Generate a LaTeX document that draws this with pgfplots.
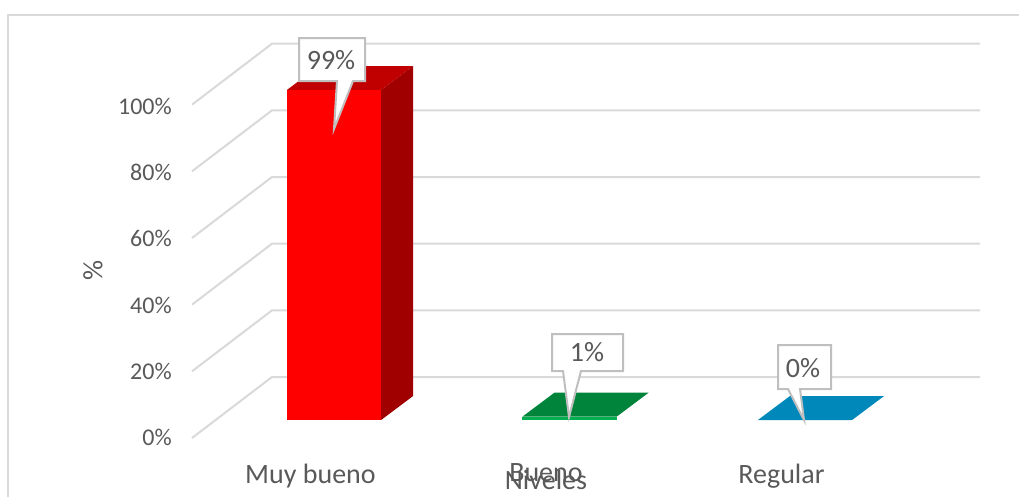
\documentclass[border=0pt]{standalone}
\usepackage{pgfplots}
\pgfplotsset{compat=1.18}
\usepackage{fontspec}
\setmainfont{Carlito}
\definecolor{gridc}{HTML}{D9D9D9}
\definecolor{txt}{HTML}{595959}
\definecolor{callout}{HTML}{BFBFBF}
\definecolor{redside}{HTML}{A00000}
\definecolor{redtop}{HTML}{C00000}
\definecolor{greenfront}{HTML}{00B050}
\definecolor{greentop}{HTML}{00843C}
\definecolor{bluetop}{HTML}{0088BB}
\newcommand{\lab}{\fontsize{18}{22}\selectfont\color{txt}}
\newcommand{\labb}{\fontsize{21}{25}\selectfont\color{txt}}
\begin{document}
\begin{tikzpicture}[x=0.75pt,y=0.75pt]
% 1 reference pixel = 0.75pt, origin at the axis' lower left corner (px 192, 455)
\path[use as bounding box] (-192,-42) rectangle (827,455);
\begin{axis}[%
scale only axis,
width=620.25pt,
height=341.25pt,
clip=false,
xmin=-0.603,
xmax=2.9087,
ymin=-10.5,
ymax=126,
axis x line*=bottom,
axis y line*=left,
x axis line style={draw=none},
y axis line style={draw=none},
major tick length=0pt,
xtick={-0.1,0.9,1.9},
xticklabels={Muy bueno,Bueno,Regular},
ytick={-5.1,14.7,34.5,54.6,74.4,94.2},
yticklabels={0\%,20\%,40\%,60\%,80\%,100\%},
x tick label style={font=\labb,inner sep=0pt,yshift=-6.5pt},
y tick label style={font=\lab,inner sep=0pt,xshift=-15pt},
xlabel={Niveles},
ylabel={\%},
every axis x label/.style={at={(axis cs:0.9,-18)},anchor=center,font=\labb},
every axis y label/.style={at={(axis cs:-1.0234,45)},anchor=center,rotate=90,font=\labb},
]
% outer frame
\addplot[gridc,line width=1.5pt,forget plot] coordinates {(-1.3843,-23.1) (-1.3843,121.5) (2.9087,121.5)};
% walls: gridlines run from the front tick back and across
\addplot[gridc,line width=1.5pt,forget plot] coordinates {(-0.603,-5.4) (-0.2633,12.9) (2.7431,12.9)};
\addplot[gridc,line width=1.5pt,forget plot] coordinates {(-0.603,14.6) (-0.2633,32.9) (2.7431,32.9)};
\addplot[gridc,line width=1.5pt,forget plot] coordinates {(-0.603,34.6) (-0.2633,52.9) (2.7431,52.9)};
\addplot[gridc,line width=1.5pt,forget plot] coordinates {(-0.603,54.6) (-0.2633,72.9) (2.7431,72.9)};
\addplot[gridc,line width=1.5pt,forget plot] coordinates {(-0.603,74.6) (-0.2633,92.9) (2.7431,92.9)};
\addplot[gridc,line width=1.5pt,forget plot] coordinates {(-0.603,94.6) (-0.2633,112.9) (2.7431,112.9)};
% Muy bueno 99
\addplot[fill=redside,draw=none,forget plot] coordinates {(0.2,0) (0.3359,7.2) (0.3359,106.2) (0.2,99)} -- cycle;
\addplot[fill=redtop,draw=none,forget plot] coordinates {(-0.2,99) (-0.0641,106.2) (0.3359,106.2) (0.2,99)} -- cycle;
\addplot[ybar,bar width=0.4,fill=red,draw=none,forget plot] coordinates {(0,99)};
% Bueno 1
\addplot[fill=greentop,draw=none,forget plot] coordinates {(0.8,1) (0.9359,8.2) (1.3359,8.2) (1.2,1)} -- cycle;
\addplot[ybar,bar width=0.4,fill=greenfront,draw=none,forget plot] coordinates {(1,1)};
% Regular 0
\addplot[fill=bluetop,draw=none,forget plot] coordinates {(1.8,0) (1.9359,7.2) (2.3359,7.2) (2.2,0)} -- cycle;
% callouts
\addplot[fill=white,draw=callout,line width=1.5pt,forget plot] coordinates {(-0.1486,114.6) (0.1316,114.6) (0.1316,101.7) (0.0807,101.7) (0,87.3) (0.0127,101.7) (-0.1486,101.7)} -- cycle;
\addplot[fill=white,draw=callout,line width=1.5pt,forget plot] coordinates {(0.9257,25.8) (1.2272,25.8) (1.2272,14.7) (1.0488,14.7) (0.9979,0.9) (0.9724,14.7) (0.9257,14.7)} -- cycle;
\addplot[fill=white,draw=callout,line width=1.5pt,forget plot] coordinates {(1.8854,22.5) (2.1104,22.5) (2.1104,9.3) (1.9788,9.3) (1.9958,0) (1.9278,9.3) (1.8854,9.3)} -- cycle;
\node[font=\labb] at (axis cs:-0.0127,108) {99\%};
\node[font=\labb] at (axis cs:1.0743,20.4) {1\%};
\node[font=\labb] at (axis cs:1.9915,15.6) {0\%};
\end{axis}
\end{tikzpicture}
\end{document}
